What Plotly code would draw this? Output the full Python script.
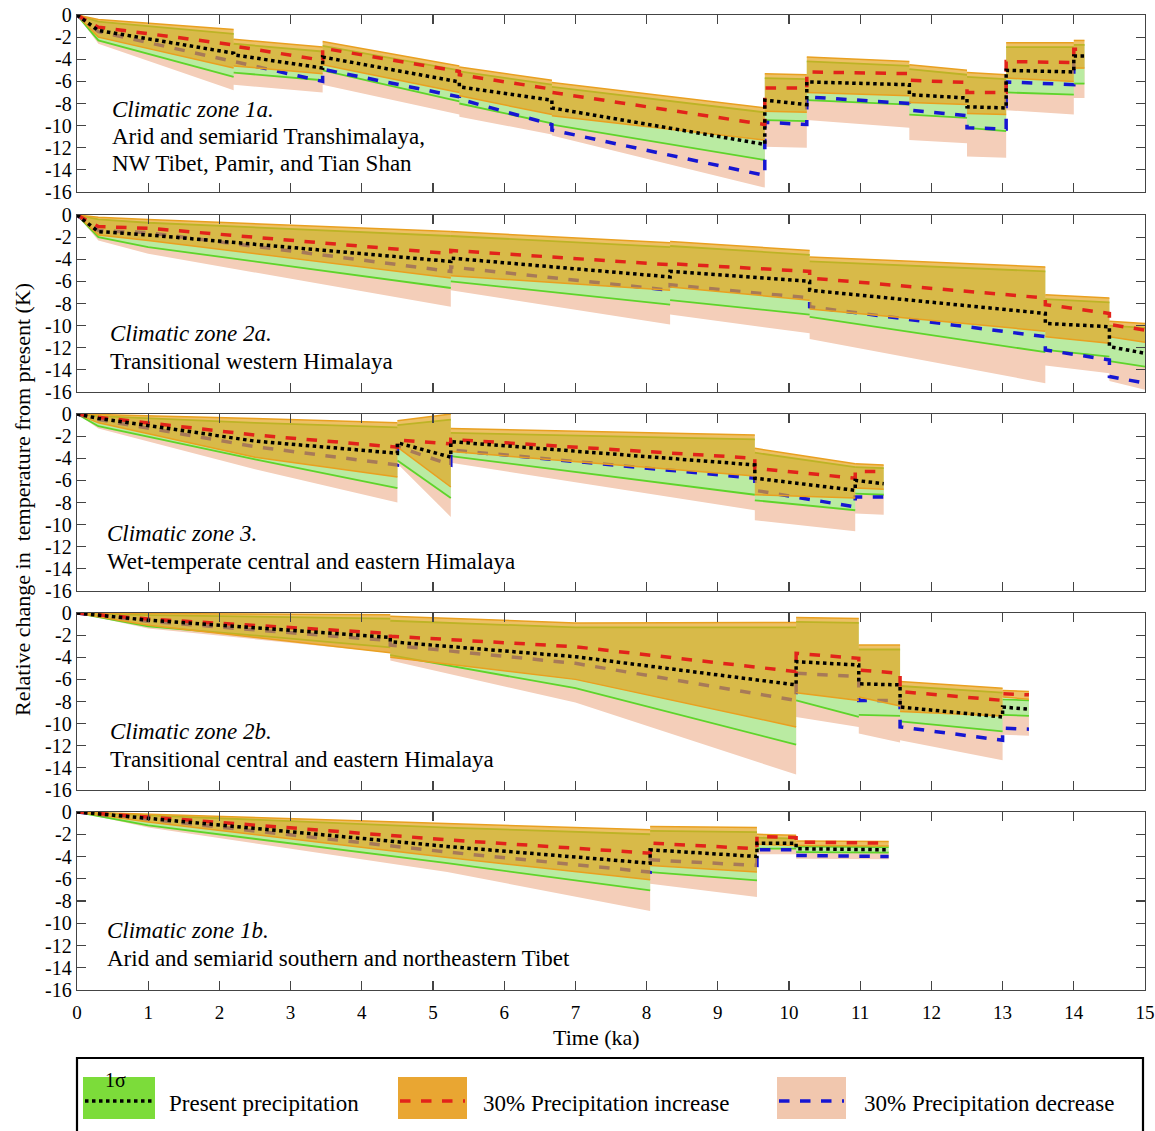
import plotly.graph_objects as go

# ---------------- DATA ----------------
x_ticks = list(range(0, 16))
x_tick_labels = [str(v) for v in x_ticks]
y_ticks = [0, -2, -4, -6, -8, -10, -12, -14, -16]
y_tick_labels = ["0", "-2", "-4", "-6", "-8", "-10", "-12", "-14", "-16"]

# Climatic zone 1a
t_1a = [0, 0.3, 2.2, 2.2, 3.45, 3.45, 5.37, 5.37, 6.67, 6.67, 9.66, 9.66, 10.25, 10.25, 11.69, 11.69, 12.5, 12.5, 13.05, 13.05, 14.0, 14.0, 14.15]
pres_1a = [0, -1.4, -3.45, -3.6, -4.8, -3.8, -6.05, -6.5, -7.7, -8.4, -11.7, -7.7, -8.1, -6.05, -6.3, -7.2, -7.5, -8.3, -8.4, -5.0, -5.15, -3.7, -3.7]
inc_1a = [0, -1.1, -2.7, -2.8, -4.1, -3.0, -5.1, -5.4, -6.7, -7.0, -9.9, -6.6, -6.6, -5.15, -5.3, -5.9, -6.1, -7.0, -7.0, -4.2, -4.3, -3.1, -3.1]
dec_1a = [0, -1.5, -4.2, -4.2, -6.0, -4.9, -7.4, -7.6, -9.9, -10.4, -14.5, -9.7, -9.9, -7.4, -8.0, -8.6, -9.1, -10.2, -10.3, -6.05, -6.3, -4.5, -4.6]
inc_hi_1a = [0, -0.4, -1.3, -2.2, -2.9, -2.4, -4.6, -4.7, -5.9, -6.1, -8.4, -5.3, -5.4, -3.8, -4.2, -4.5, -5.0, -5.2, -5.4, -2.5, -2.5, -2.3, -2.3]
inc_lo_1a = [0, -2.0, -4.8, -4.6, -5.3, -4.5, -7.0, -7.3, -9.0, -9.1, -11.3, -8.7, -8.8, -7.0, -7.3, -7.9, -8.1, -8.9, -9.0, -5.7, -6.0, -4.8, -4.8]
pres_hi_1a = [0, -0.6, -1.7, -2.6, -3.3, -2.8, -5.0, -5.1, -6.3, -6.5, -8.8, -5.7, -5.8, -4.2, -4.6, -4.9, -5.4, -5.6, -5.8, -2.9, -2.9, -2.7, -2.7]
pres_lo_1a = [0, -2.3, -5.6, -5.2, -5.9, -5.0, -7.8, -8.0, -9.8, -9.9, -13.1, -9.5, -9.6, -7.7, -8.1, -9.0, -9.3, -10.2, -10.5, -7.0, -7.2, -6.2, -6.2]
dec_hi_1a = [0, -1.2, -3.3, -3.5, -4.7, -3.7, -6.0, -6.4, -7.6, -8.3, -11.6, -7.6, -8.0, -6.0, -6.2, -7.1, -7.4, -8.2, -8.3, -4.9, -5.0, -3.6, -3.6]
dec_lo_1a = [0, -2.6, -6.8, -6.3, -7.0, -6.3, -9.0, -9.2, -10.8, -10.9, -15.6, -11.9, -12.0, -9.5, -10.2, -11.3, -11.6, -12.8, -12.9, -8.6, -9.0, -7.5, -7.5]

# Climatic zone 2a
t_2a = [0, 0.3, 1.0, 5.25, 5.25, 8.33, 8.33, 10.29, 10.29, 13.6, 13.6, 14.5, 14.5, 15.0]
pres_2a = [0, -1.5, -1.8, -4.2, -3.9, -5.6, -5.1, -6.0, -6.8, -8.9, -9.8, -10.1, -11.9, -12.5]
inc_2a = [0, -1.05, -1.2, -3.5, -3.2, -4.5, -4.4, -5.1, -5.7, -7.5, -8.1, -8.9, -9.9, -10.4]
dec_2a = [0, -1.4, -1.6, -5.1, -4.7, -6.8, -6.3, -7.5, -8.3, -11.0, -12.2, -13.1, -14.6, -15.2]
inc_hi_2a = [0, -0.2, -0.4, -1.5, -1.5, -2.5, -2.4, -3.2, -3.8, -4.7, -7.2, -7.5, -9.6, -9.8]
inc_lo_2a = [0, -1.8, -2.3, -5.7, -5.5, -6.8, -6.5, -7.7, -8.5, -10.5, -11.0, -11.6, -11.0, -11.5]
pres_hi_2a = [0, -0.4, -0.7, -1.9, -1.9, -2.9, -2.8, -3.6, -4.2, -5.1, -7.6, -7.9, -10.0, -10.2]
pres_lo_2a = [0, -2.0, -2.9, -6.6, -6.0, -8.1, -7.7, -9.0, -9.2, -12.4, -12.2, -12.8, -13.2, -13.7]
dec_hi_2a = [0, -1.5, -1.8, -4.5, -4.3, -5.9, -5.6, -6.5, -7.2, -9.5, -10.2, -10.6, -12.0, -12.6]
dec_lo_2a = [0, -2.3, -3.5, -8.3, -6.8, -9.9, -9.0, -10.7, -11.2, -15.2, -13.6, -14.3, -15.0, -15.8]

# Climatic zone 3
t_3 = [0, 0.3, 2.5, 4.5, 4.5, 5.25, 5.25, 9.52, 9.52, 10.93, 10.93, 11.33]
pres_3 = [0, -0.4, -2.45, -3.55, -2.6, -3.9, -2.5, -4.6, -5.8, -6.9, -6.0, -6.3]
inc_3 = [0, -0.3, -1.9, -3.0, -2.35, -2.7, -2.3, -4.0, -4.9, -5.8, -5.2, -5.2]
dec_3 = [0, -0.5, -2.95, -4.6, -2.95, -4.6, -3.25, -5.8, -6.9, -8.4, -7.5, -7.5]
inc_hi_3 = [0, -0.05, -0.4, -0.8, -0.6, 0.0, -1.3, -1.9, -3.1, -4.5, -4.5, -4.6]
inc_lo_3 = [0, -0.8, -3.9, -5.7, -3.0, -6.6, -3.4, -5.6, -7.3, -7.6, -6.7, -6.8]
pres_hi_3 = [0, -0.2, -0.8, -1.2, -1.0, -0.5, -1.7, -2.3, -3.5, -4.8, -4.8, -4.9]
pres_lo_3 = [0, -1.1, -4.1, -6.7, -4.2, -7.6, -3.8, -7.3, -7.8, -8.7, -7.2, -7.3]
dec_hi_3 = [0, -0.5, -2.7, -4.0, -3.0, -4.5, -3.0, -5.3, -6.4, -7.5, -6.6, -6.8]
dec_lo_3 = [0, -1.3, -5.0, -8.0, -4.5, -9.3, -4.4, -8.7, -9.6, -10.6, -9.0, -9.1]

# Climatic zone 2b
t_2b = [0, 1.0, 4.4, 4.4, 7.0, 10.1, 10.1, 10.98, 10.98, 11.56, 11.56, 13.0, 13.0, 13.37]
pres_2b = [0, -0.65, -2.2, -2.6, -3.95, -6.5, -4.4, -4.7, -6.4, -6.5, -8.5, -9.4, -8.5, -8.7]
inc_2b = [0, -0.55, -1.85, -2.1, -3.05, -5.3, -3.65, -4.1, -5.15, -5.45, -7.1, -7.9, -7.3, -7.4]
dec_2b = [0, -0.75, -2.5, -2.9, -4.55, -7.9, -5.45, -5.75, -7.9, -7.9, -10.3, -11.5, -10.4, -10.5]
inc_hi_2b = [0, -0.05, -0.15, -0.3, -0.9, -0.85, -0.4, -0.5, -2.9, -2.9, -6.2, -6.8, -7.0, -7.1]
inc_lo_2b = [0, -1.1, -3.6, -4.0, -6.0, -10.3, -7.2, -7.9, -7.6, -8.4, -8.9, -9.3, -7.6, -7.8]
pres_hi_2b = [0, -0.2, -0.5, -0.7, -1.3, -1.3, -0.8, -0.9, -3.3, -3.3, -6.6, -7.2, -7.8, -7.9]
pres_lo_2b = [0, -1.2, -3.1, -3.8, -6.8, -11.9, -7.9, -9.4, -9.2, -9.3, -9.8, -10.7, -9.2, -9.3]
dec_hi_2b = [0, -0.7, -2.3, -2.7, -4.0, -6.6, -5.0, -5.3, -6.6, -6.7, -8.6, -9.5, -8.6, -8.8]
dec_lo_2b = [0, -1.4, -3.6, -4.3, -8.1, -14.6, -9.4, -10.3, -10.9, -11.7, -11.5, -13.3, -11.0, -11.1]

# Climatic zone 1b
t_1b = [0, 1.0, 5.2, 8.05, 8.05, 9.55, 9.55, 10.1, 10.1, 11.4]
pres_1b = [0, -0.57, -3.1, -4.6, -3.4, -4.0, -2.8, -2.8, -3.3, -3.4]
inc_1b = [0, -0.45, -2.5, -3.7, -2.8, -3.3, -2.2, -2.3, -2.7, -2.8]
dec_1b = [0, -0.65, -3.6, -5.4, -4.3, -4.8, -3.4, -3.4, -3.9, -4.0]
inc_hi_1b = [0, -0.2, -1.0, -1.6, -1.3, -1.4, -2.0, -2.1, -2.6, -2.65]
inc_lo_1b = [0, -0.9, -4.1, -6.1, -4.8, -5.4, -2.9, -3.0, -3.0, -3.05]
pres_hi_1b = [0, -0.3, -1.4, -2.0, -1.7, -1.8, -2.3, -2.4, -3.1, -3.15]
pres_lo_1b = [0, -1.2, -4.6, -7.05, -5.4, -6.15, -3.3, -3.3, -3.6, -3.65]
dec_hi_1b = [0, -0.5, -2.9, -4.4, -3.5, -4.0, -2.9, -2.9, -3.4, -3.5]
dec_lo_1b = [0, -1.4, -5.4, -8.9, -6.45, -7.65, -3.8, -3.8, -4.2, -4.25]

zone_titles = ["Climatic zone 1a.", "Climatic zone 2a.", "Climatic zone 3.",
               "Climatic zone 2b.", "Climatic zone 1b."]
zone_descriptions = [
    ["Arid and semiarid Transhimalaya,", "NW Tibet, Pamir, and Tian Shan"],
    ["Transitional western Himalaya"],
    ["Wet-temperate central and eastern Himalaya"],
    ["Transitional central and eastern Himalaya"],
    ["Arid and semiarid southern and northeastern Tibet"],
]
legend_labels = ["Present precipitation", "30% Precipitation increase", "30% Precipitation decrease"]

# ---------------- STYLE ----------------
FONT = "Liberation Serif"
SALMON = "#F4CEB9"
GREEN_FILL = "#BAEBA2"
GREEN_EDGE = "#5ED42A"
ORANGE_FILL = "rgba(230,165,35,0.70)"
ORANGE_EDGE = "#E9A020"
RED = "#E2231A"
BLUE = "#1616D2"
AXC = "#444444"

panels = [
    (t_1a, pres_1a, inc_1a, dec_1a, inc_hi_1a, inc_lo_1a, pres_hi_1a, pres_lo_1a, dec_hi_1a, dec_lo_1a),
    (t_2a, pres_2a, inc_2a, dec_2a, inc_hi_2a, inc_lo_2a, pres_hi_2a, pres_lo_2a, dec_hi_2a, dec_lo_2a),
    (t_3, pres_3, inc_3, dec_3, inc_hi_3, inc_lo_3, pres_hi_3, pres_lo_3, dec_hi_3, dec_lo_3),
    (t_2b, pres_2b, inc_2b, dec_2b, inc_hi_2b, inc_lo_2b, pres_hi_2b, pres_lo_2b, dec_hi_2b, dec_lo_2b),
    (t_1b, pres_1b, inc_1b, dec_1b, inc_hi_1b, inc_lo_1b, pres_hi_1b, pres_lo_1b, dec_hi_1b, dec_lo_1b),
]

# Page margin is removed by the post script, so the figure fills the window exactly.
FIG_W, FIG_H = 1155, 1131
panel_px = [(15, 192), (215, 392), (414, 591), (613, 790), (812, 990)]
PLOT_BOTTOM, PLOT_H = 990, 975
PLOT_LEFT, PLOT_W = 77, 1068
M_L = PLOT_LEFT
M_T = 15
M_R = FIG_W - M_L - PLOT_W
M_B = FIG_H - M_T - PLOT_H


def py2paper(py):
    return (PLOT_BOTTOM - py) / PLOT_H


def px2paper(px):
    return (px - PLOT_LEFT) / PLOT_W


def band_xy(t, hi, lo):
    return list(t) + list(t)[::-1], list(hi) + list(lo)[::-1]


def broken(t, y):
    xs, ys = [], []
    for i in range(len(t)):
        if i > 0 and t[i] == t[i - 1]:
            xs.append(None)
            ys.append(None)
        xs.append(t[i])
        ys.append(y[i])
    return xs, ys


fig = go.Figure()

for k, (t, pres, inc, dec, ihi, ilo, phi, plo, dhi, dlo) in enumerate(panels, start=1):
    xa = "x" if k == 1 else f"x{k}"
    ya = "y" if k == 1 else f"y{k}"
    common = dict(xaxis=xa, yaxis=ya, hoverinfo="skip", showlegend=False)

    bx, by = band_xy(t, dhi, dlo)
    fig.add_trace(go.Scatter(x=bx, y=by, fill="toself", fillcolor=SALMON, mode="lines",
                             line=dict(width=0, color=SALMON), **common))
    bx, by = band_xy(t, phi, plo)
    fig.add_trace(go.Scatter(x=bx, y=by, fill="toself", fillcolor=GREEN_FILL, mode="lines",
                             line=dict(width=0, color=GREEN_FILL), **common))
    for edge in (phi, plo):
        ex, ey = broken(t, edge)
        fig.add_trace(go.Scatter(x=ex, y=ey, mode="lines", connectgaps=False,
                                 line=dict(width=1.8, color=GREEN_EDGE), **common))
    fig.add_trace(go.Scatter(x=t, y=dec, mode="lines",
                             line=dict(width=3.5, color=BLUE, dash="dash"), **common))
    bx, by = band_xy(t, ihi, ilo)
    fig.add_trace(go.Scatter(x=bx, y=by, fill="toself", fillcolor=ORANGE_FILL, mode="lines",
                             line=dict(width=0, color=ORANGE_EDGE), **common))
    for edge in (ihi, ilo):
        ex, ey = broken(t, edge)
        fig.add_trace(go.Scatter(x=ex, y=ey, mode="lines", connectgaps=False,
                                 line=dict(width=1.5, color=ORANGE_EDGE), **common))
    fig.add_trace(go.Scatter(x=t, y=inc, mode="lines",
                             line=dict(width=3.5, color=RED, dash="dash"), **common))
    fig.add_trace(go.Scatter(x=t, y=pres, mode="lines",
                             line=dict(width=3.5, color="black", dash="dot"), **common))

layout = dict(
    width=FIG_W, height=FIG_H,
    margin=dict(l=M_L, r=M_R, t=M_T, b=M_B, pad=0),
    plot_bgcolor="white", paper_bgcolor="white",
    showlegend=False, hovermode=False,
    font=dict(family=FONT, size=19, color="black"),
)

for k in range(1, 6):
    top, bot = panel_px[k - 1]
    sfx = "" if k == 1 else str(k)
    layout[f"xaxis{sfx}"] = dict(
        domain=[0, 1], anchor=f"y{sfx}", range=[0, 15], automargin=False,
        tickmode="array", tickvals=x_ticks, ticktext=x_tick_labels,
        showticklabels=(k == 5), ticks="inside", ticklen=9, tickwidth=1.2, tickcolor=AXC,
        showline=True, linecolor=AXC, linewidth=1.3, mirror="ticks",
        showgrid=False, zeroline=False, ticklabelstandoff=5, ticklabeloverflow="allow",
        tickfont=dict(family=FONT, size=19, color="black"),
    )
    layout[f"yaxis{sfx}"] = dict(
        domain=[py2paper(bot), py2paper(top)], anchor=f"x{sfx}", range=[-16, 0], automargin=False,
        tickmode="array", tickvals=y_ticks, ticktext=y_tick_labels,
        ticks="inside", ticklen=9, tickwidth=1.2, tickcolor=AXC,
        showline=True, linecolor=AXC, linewidth=1.3, mirror="ticks",
        showgrid=False, zeroline=False, ticklabeloverflow="allow",
        tickfont=dict(family=FONT, size=20, color="black"),
    )

fig.update_layout(**layout)

annotations = []
LBL = 23
label_px = [(110, 110, [136, 163]), (108, 333, [361]), (105, 533, [561]),
            (108, 731, [759]), (105, 930, [958])]
for k, (lx, ly, dys) in enumerate(label_px):
    annotations.append(dict(x=px2paper(lx), y=py2paper(ly), xref="paper", yref="paper",
                            text=f"<i>{zone_titles[k]}</i>", showarrow=False,
                            xanchor="left", yanchor="middle",
                            font=dict(family=FONT, size=LBL, color="black")))
    for line_text, dy in zip(zone_descriptions[k], dys):
        annotations.append(dict(x=px2paper(lx), y=py2paper(dy), xref="paper", yref="paper",
                                text=line_text, showarrow=False,
                                xanchor="left", yanchor="middle",
                                font=dict(family=FONT, size=LBL, color="black")))

annotations.append(dict(x=px2paper(22), y=py2paper(500), xref="paper", yref="paper",
                        text="Relative change in  temperature from present (K)",
                        textangle=-90, showarrow=False, xanchor="center", yanchor="middle",
                        font=dict(family=FONT, size=22, color="black")))
annotations.append(dict(x=px2paper(596), y=py2paper(1037), xref="paper", yref="paper",
                        text="Time (ka)", showarrow=False, xanchor="center", yanchor="middle",
                        font=dict(family=FONT, size=22, color="black")))

# legend box drawn manually
shapes = [
    dict(type="rect", xref="paper", yref="paper", x0=px2paper(77), x1=px2paper(1143),
         y0=py2paper(1058), y1=py2paper(1140), line=dict(color="black", width=2.2),
         fillcolor="white", layer="below"),
]
sq_y0, sq_y1 = py2paper(1119), py2paper(1077)
sw = [(83, 155, "#7CDC3A", "black", "dot"), (398, 467, "#E9A632", RED, "dash"),
      (777, 846, "#F1C7AE", BLUE, "dash")]
for (x0, x1, fc, lc, ds) in sw:
    shapes.append(dict(type="rect", xref="paper", yref="paper", x0=px2paper(x0), x1=px2paper(x1),
                       y0=sq_y0, y1=sq_y1, line=dict(width=0), fillcolor=fc))
    shapes.append(dict(type="line", xref="paper", yref="paper", x0=px2paper(x0 + 2), x1=px2paper(x1 - 2),
                       y0=py2paper(1101), y1=py2paper(1101), line=dict(color=lc, width=3.5, dash=ds)))

annotations.append(dict(x=px2paper(103), y=py2paper(1080), xref="paper", yref="paper",
                        text="1σ", showarrow=False, xanchor="left", yanchor="middle",
                        font=dict(family=FONT, size=20, color="black")))
for lbl, lx in zip(legend_labels, [167, 481, 862]):
    annotations.append(dict(x=px2paper(lx), y=py2paper(1103), xref="paper", yref="paper",
                            text=lbl, showarrow=False, xanchor="left", yanchor="middle",
                            font=dict(family=FONT, size=23, color="black")))

fig.update_layout(annotations=annotations, shapes=shapes)
fig.write_html("out.html",
               config={"displayModeBar": False, "staticPlot": True},
               post_script="document.body.style.margin='0px';document.body.style.overflow='hidden';")
